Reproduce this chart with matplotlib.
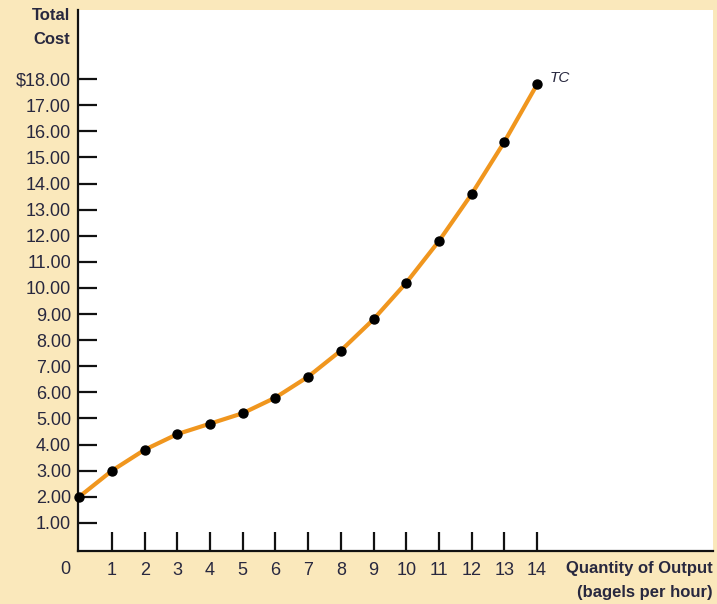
import matplotlib
matplotlib.use("Agg")
import matplotlib.pyplot as plt

# Total cost of producing bagels
quantity = [0, 1, 2, 3, 4, 5, 6, 7, 8, 9, 10, 11, 12, 13, 14]
total_cost = [2.00, 3.00, 3.80, 4.40, 4.80, 5.20, 5.80, 6.60, 7.60, 8.80,
              10.20, 11.80, 13.60, 15.60, 17.80]

y_ticks = [1, 2, 3, 4, 5, 6, 7, 8, 9, 10, 11, 12, 13, 14, 15, 16, 17, 18]
y_labels = ["1.00", "2.00", "3.00", "4.00", "5.00", "6.00", "7.00", "8.00",
            "9.00", "10.00", "11.00", "12.00", "13.00", "14.00", "15.00",
            "16.00", "17.00", "$18.00"]
x_ticks = list(range(1, 15))

BG = "#fae8bb"
TEXT = "#28283f"
LINE = "#f0961e"

plt.rcParams["font.family"] = ["Liberation Sans", "DejaVu Sans"]

W, H = 717, 604
fig = plt.figure(figsize=(W / 100, H / 100), dpi=100, facecolor=BG)
ax = fig.add_axes([78 / W, (H - 551) / H, (713 - 78) / W, (551 - 10) / H])
ax.set_facecolor("white")

ax.plot(quantity, total_cost, color=LINE, lw=3, solid_joinstyle="round",
        solid_capstyle="round", zorder=2, clip_on=False)
ax.scatter(quantity, total_cost, s=42, color="black", zorder=3, clip_on=False)

ax.set_xlim(-0.04, 19.38)
ax.set_ylim(-0.08, 20.65)

for side in ("top", "right"):
    ax.spines[side].set_visible(False)
for side in ("left", "bottom"):
    ax.spines[side].set_linewidth(1.6)
    ax.spines[side].set_color("#111111")

ax.set_yticks(y_ticks)
ax.set_yticklabels(y_labels)
ax.set_xticks(x_ticks)
ax.set_xticklabels([str(v) for v in x_ticks])
ax.tick_params(axis="both", direction="in", length=14, width=1.6,
               color="#111111", labelcolor=TEXT, labelsize=13)
ax.tick_params(axis="y", pad=5)
ax.tick_params(axis="x", pad=8)

# origin label, on the same baseline as the quantity labels
fig.text(65 / W, (H - 569) / H, "0", fontsize=13, color=TEXT,
         ha="center", va="center")

ax.text(14.39, 18.05, "TC", fontsize=11, style="italic", color=TEXT,
        ha="left", va="center")

fig.text(70 / W, (H - 16) / H, "Total", fontsize=12, fontweight="bold",
         color=TEXT, ha="right", va="center")
fig.text(70 / W, (H - 40) / H, "Cost", fontsize=12, fontweight="bold",
         color=TEXT, ha="right", va="center")
fig.text(713 / W, (H - 569) / H, "Quantity of Output", fontsize=12,
         fontweight="bold", color=TEXT, ha="right", va="center")
fig.text(713 / W, (H - 593) / H, "(bagels per hour)", fontsize=12,
         fontweight="bold", color=TEXT, ha="right", va="center")

fig.savefig("out.png", dpi=100, facecolor=BG)
